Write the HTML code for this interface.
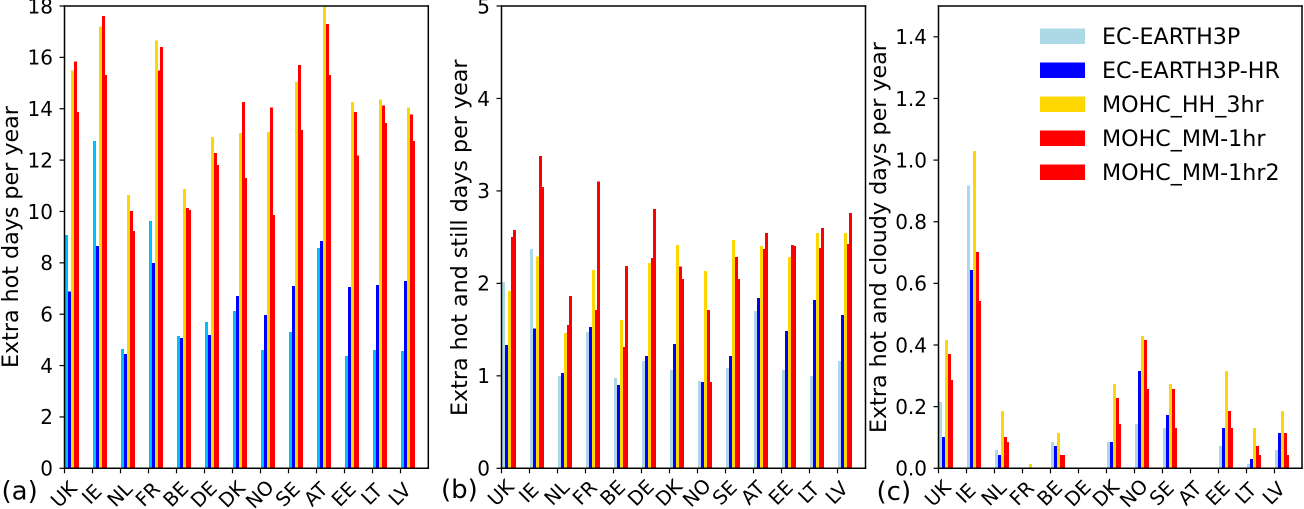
<!DOCTYPE html>
<html lang="en">
<head>
<meta charset="utf-8">
<title>Extra hot days per year</title>
<style>
html,body{margin:0;padding:0;background:#fff;width:1304px;height:509px;overflow:hidden}
svg{display:block}
text{font-family:"DejaVu Sans","Liberation Sans",sans-serif;fill:#000}
</style>
</head>
<body>
<svg id="figure" width="1304" height="509" viewBox="0 0 1304 509" xmlns="http://www.w3.org/2000/svg"></svg>
<script>
const categories = ['UK','IE','NL','FR','BE','DE','DK','NO','SE','AT','EE','LT','LV'];
const seriesNames = ['EC-EARTH3P','EC-EARTH3P-HR','MOHC_HH_3hr','MOHC_MM-1hr','MOHC_MM-1hr2'];

const hotEcEarth = [9.09,12.75,4.65,9.63,5.15,5.70,6.13,4.61,5.31,8.58,4.37,4.61,4.57];
const hotEcEarthHr = [6.88,8.66,4.45,8.00,5.08,5.19,6.71,5.97,7.10,8.85,7.06,7.14,7.30];
const hotMohcHh = [15.48,17.20,10.65,16.65,10.88,12.90,13.06,13.10,15.05,17.97,14.27,14.35,14.04];
const hotMohcMm = [15.83,17.62,10.02,15.48,10.14,12.28,14.27,14.04,15.71,17.30,13.88,14.12,13.77];
const hotMohcMm2 = [13.88,15.32,9.24,16.41,10.06,11.81,11.31,9.87,13.18,15.32,12.17,13.45,12.75];

const stillEcEarth = [2.017,2.37,1.00,1.475,0.978,1.16,1.064,0.945,1.086,1.703,1.064,1.00,1.16];
const stillEcEarthHr = [1.335,1.51,1.03,1.53,0.90,1.215,1.345,0.934,1.215,1.843,1.486,1.82,1.66];
const stillMohcHh = [1.92,2.29,1.465,2.146,1.605,2.222,2.417,2.136,2.47,2.406,2.287,2.547,2.547];
const stillMohcMm = [2.50,3.38,1.55,1.714,1.313,2.276,2.18,1.714,2.287,2.374,2.417,2.385,2.428];
const stillMohcMm2 = [2.58,3.045,1.865,3.10,2.19,2.807,2.05,0.934,2.05,2.547,2.406,2.60,2.763];

const cloudyEcEarth = [0.215,0.917,0.06,0,0.085,0,0.0855,0.144,0.131,0,0.0725,0.014,0.06];
const cloudyEcEarthHr = [0.102,0.644,0.043,0,0.072,0,0.0855,0.316,0.173,0,0.131,0.03,0.115];
const cloudyMohcHh = [0.417,1.03,0.186,0.014,0.115,0,0.274,0.43,0.274,0,0.316,0.131,0.186];
const cloudyMohcMm = [0.371,0.702,0.102,0,0.043,0,0.228,0.417,0.258,0,0.186,0.0725,0.115];
const cloudyMohcMm2 = [0.287,0.543,0.085,0,0.043,0,0.144,0.258,0.131,0,0.131,0.043,0.043];

const hotTicks = [0,2,4,6,8,10,12,14,16,18];
const stillTicks = [0,1,2,3,4,5];
const cloudyTicks = ['0.0','0.2','0.4','0.6','0.8','1.0','1.2','1.4'];

const svgNS = 'http://www.w3.org/2000/svg';
const fig = document.getElementById('figure');
const TOP = 6, BOTTOM = 468.3, STEP = 28;
const X_LABEL_SIZE = 19.5;

function makeRect(parent, x, y, w, h, fill) {
  const r = document.createElementNS(svgNS, 'rect');
  r.setAttribute('x', x);
  r.setAttribute('y', y);
  r.setAttribute('width', w);
  r.setAttribute('height', h);
  r.setAttribute('fill', fill);
  r.setAttribute('shape-rendering', 'crispEdges');
  parent.appendChild(r);
  return r;
}
function makeLine(parent, x1, y1, x2, y2, sw) {
  const l = document.createElementNS(svgNS, 'line');
  l.setAttribute('x1', x1);
  l.setAttribute('y1', y1);
  l.setAttribute('x2', x2);
  l.setAttribute('y2', y2);
  l.setAttribute('stroke', '#000');
  l.setAttribute('stroke-width', sw);
  parent.appendChild(l);
  return l;
}
function makeText(parent, str, x, y, size, anchor, transform) {
  const t = document.createElementNS(svgNS, 'text');
  t.setAttribute('x', x);
  t.setAttribute('y', y);
  t.setAttribute('font-size', size);
  t.setAttribute('text-anchor', anchor);
  if (transform) t.setAttribute('transform', transform);
  t.textContent = str;
  parent.appendChild(t);
  return t;
}

function drawPanel(p) {
  const g = document.createElementNS(svgNS, 'g');
  
  
  fig.appendChild(g);

  const xTick = i => p.left + i * STEP;
  const yScale = v => BOTTOM - (v / p.yMax) * (BOTTOM - TOP);
  const barLeft = (i, s) => Math.round(xTick(i) + 0.5 + s * 2.85);

  p.series.forEach((values, s) => {
    values.forEach((v, i) => {
      if (v <= 0) return;
      const y = yScale(v);
      const bar = makeRect(g, barLeft(i, s), y, 3, BOTTOM - y, p.colors[s]);
      
      
    });
  });

  const spines = [
    [p.left, TOP, p.left, BOTTOM],
    [p.right, TOP, p.right, BOTTOM],
    [p.left, TOP, p.right, TOP],
    [p.left, BOTTOM, p.right, BOTTOM]
  ];
  spines.forEach(c => {
    const sp = makeLine(g, c[0] , c[1], c[2], c[3], 1.5);
    sp.setAttribute('stroke-linecap', 'square');
    
    
  });

  p.yTicks.forEach(tick => {
    const y = yScale(parseFloat(tick));
    const mark = makeLine(g, p.left - 5, y, p.left, y, 1.2);
    
    
    const lbl = makeText(g, tick, p.left - p.yLabelGap, y + 7.3, 20, 'end');
    
    
  });

  categories.forEach((c, i) => {
    const x = xTick(i);
    const mark = makeLine(g, x, BOTTOM, x, BOTTOM + 5, 1.2);
    
    
    const cx = x - 1, cy = p.xLabelY;
    const lbl = makeText(g, c, cx, cy + 0.365 * X_LABEL_SIZE, X_LABEL_SIZE, 'middle', 'rotate(-45 ' + cx + ' ' + cy + ')');
    
    
  });

  const title = makeText(g, p.yTitle, 0, 0, 22.2, 'start', 'translate(' + p.titleX + ' ' + p.titleY + ') rotate(-90)');
  
  

  const tag = makeText(g, p.tag, p.tagX, p.tagY, 26, 'start');
  
  
}

drawPanel({
  name: 'panel-extra-hot', left: 64.5, right: 428.3, yMax: 18, yTicks: hotTicks.map(String), yLabelGap: 11.5, xLabelY: 494,
  series: [hotEcEarth, hotEcEarthHr, hotMohcHh, hotMohcMm, hotMohcMm2],
  colors: ['#00bfff','#0000ff','#ffd700','#ff0000','#ff0000'],
  yTitle: 'Extra hot days per year', titleX: 18, titleY: 368,
  tag: '(a)', tagX: 1.5, tagY: 499.5
});
drawPanel({
  name: 'panel-extra-hot-still', left: 501.5, right: 865.5, yMax: 5, yTicks: stillTicks.map(String), yLabelGap: 11.5, xLabelY: 492.5,
  series: [stillEcEarth, stillEcEarthHr, stillMohcHh, stillMohcMm, stillMohcMm2],
  colors: ['#add8e6','#0000ff','#ffd700','#ff0000','#ff0000'],
  yTitle: 'Extra hot and still days per year', titleX: 467, titleY: 416,
  tag: '(b)', tagX: 441, tagY: 498
});
drawPanel({
  name: 'panel-extra-hot-cloudy', left: 938.5, right: 1302, yMax: 1.5, yTicks: cloudyTicks, yLabelGap: 11.5, xLabelY: 493,
  series: [cloudyEcEarth, cloudyEcEarthHr, cloudyMohcHh, cloudyMohcMm, cloudyMohcMm2],
  colors: ['#add8e6','#0000ff','#ffd700','#ff0000','#ff0000'],
  yTitle: 'Extra hot and cloudy days per year', titleX: 886, titleY: 433,
  tag: '(c)', tagX: 876.5, tagY: 500
});

const legend = document.createElementNS(svgNS, 'g');


fig.appendChild(legend);
const legendColors = ['#add8e6','#0000ff','#ffd700','#ff0000','#ff0000'];
seriesNames.forEach((n, i) => {
  const top = 28.5 + i * 34;
  const swatch = makeRect(legend, 1040, top, 45, 15.5, legendColors[i]);
  
  
  const label = makeText(legend, n, 1102, top + 15.5, 22.2, 'start');
  
  
});
</script>
</body>
</html>
